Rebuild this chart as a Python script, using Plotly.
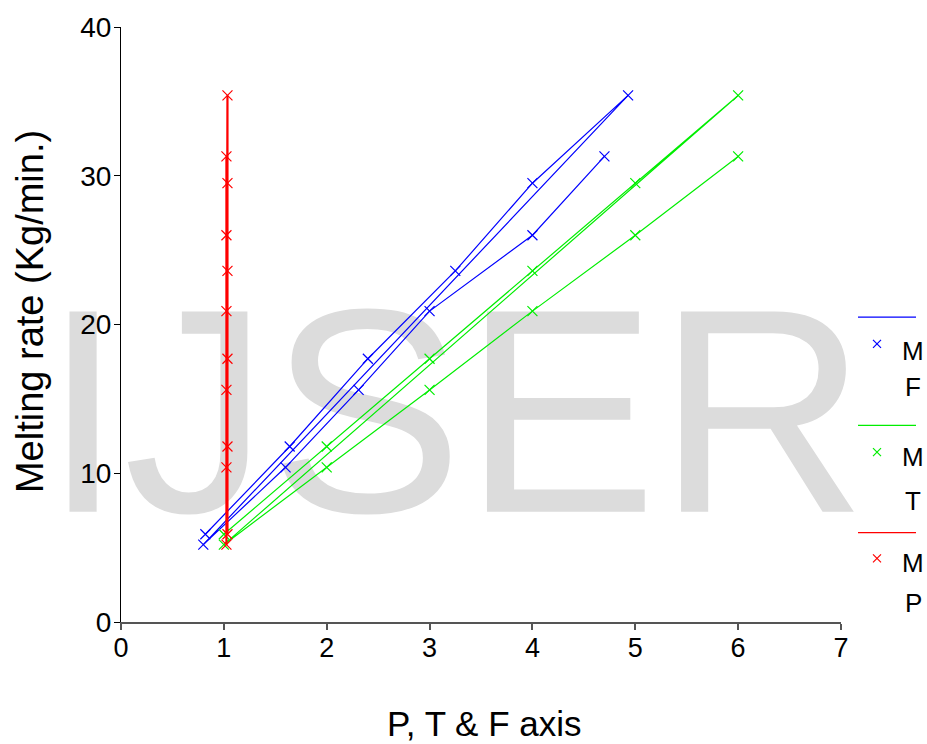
import plotly.graph_objects as go

# ---- data (set B first, then set A, in drawing order) ----
F_axis = [0.82, 1.64, 2.40, 3.25, 4.00, 4.93, 0.80, 1.60, 2.31, 3.00, 4.00, 4.70]
T_axis = [1.0, 2.0, 3.0, 4.0, 5.0, 6.0, 1.0, 2.0, 3.0, 4.0, 5.0, 6.0]
P_axis = [1.035, 1.035, 1.035, 1.035, 1.035, 1.035, 1.025, 1.025, 1.025, 1.025, 1.025, 1.025]
M_rate = [5.9, 11.8, 17.7, 23.6, 29.5, 35.4, 5.2, 10.4, 15.6, 20.9, 26.0, 31.3]

series_names = ["M F", "M T", "M P"]
series_colors = ["#0000ff", "#00ee00", "#ff0000"]
series_widths = [1.2, 1.2, 2.2]
x_ticks = [0, 1, 2, 3, 4, 5, 6, 7]
y_ticks = [0, 10, 20, 30, 40]

FONT = "Liberation Sans, Arial, sans-serif"

fig = go.Figure()

# watermark, drawn beneath the data
fig.add_trace(go.Scatter(
    x=[3.247], y=[12.3], mode="text", text=["IJSER"],
    textposition="middle center",
    textfont=dict(family=FONT, size=291, color="#dcdcdc"),
    cliponaxis=False, hoverinfo="skip", showlegend=False))

for xs, name, col, w in zip([F_axis, T_axis, P_axis], series_names, series_colors, series_widths):
    fig.add_trace(go.Scatter(
        x=xs, y=M_rate, mode="lines+markers", name=name,
        line=dict(color=col, width=w),
        marker=dict(symbol="x-thin", size=10, line=dict(color=col, width=1.2)),
        cliponaxis=False, showlegend=False))

# ---- manual legend ----
L0, W, T0, H = 121, 720, 23, 599
def px(x):
    return (x - L0) / W
def py(y):
    return (T0 + H - y) / H

shapes = []
annotations = []
leg_rows = [(315, 342, 349, 385, "F"), (424, 451, 456, 500, "T"), (532, 558, 563, 603, "P")]
for (ly, my, ty1, ty2, letter), col in zip(leg_rows, series_colors):
    shapes.append(dict(type="line", xref="paper", yref="paper",
                       x0=px(858), x1=px(916), y0=py(ly), y1=py(ly),
                       line=dict(color=col, width=1.2)))
    shapes.append(dict(type="path", xref="paper", yref="paper",
                       xsizemode="pixel", ysizemode="pixel",
                       xanchor=px(877), yanchor=py(my),
                       path="M -4,-4 L 4,4 M -4,4 L 4,-4",
                       line=dict(color=col, width=1.2)))
    annotations.append(dict(text="M", xref="paper", yref="paper", x=px(913), y=py(ty1),
                            xanchor="center", yanchor="middle", showarrow=False,
                            font=dict(family=FONT, size=26, color="black")))
    annotations.append(dict(text=letter, xref="paper", yref="paper", x=px(913), y=py(ty2),
                            xanchor="center", yanchor="middle", showarrow=False,
                            font=dict(family=FONT, size=26, color="black")))

# axis titles
annotations.append(dict(text="P, T &amp; F axis", xref="paper", yref="paper",
                        x=px(484), y=py(724), xanchor="center", yanchor="middle",
                        showarrow=False, font=dict(family=FONT, size=35, color="black")))
annotations.append(dict(text="Melting rate (Kg/min.)", xref="paper", yref="paper",
                        x=px(30), y=py(310), xanchor="center", yanchor="middle",
                        textangle=-90, showarrow=False,
                        font=dict(family=FONT, size=38, color="black")))

fig.update_layout(
    width=927, height=744,
    margin=dict(l=121, r=86, t=23, b=122),
    paper_bgcolor="white", plot_bgcolor="white",
    showlegend=False,
    shapes=shapes, annotations=annotations,
    font=dict(family=FONT, color="black"),
    xaxis=dict(range=[0, 7], tickvals=x_ticks, ticks="outside", ticklen=6,
               tickcolor="#555555", tickwidth=1.5, showline=True, linecolor="#555555",
               linewidth=2, showgrid=False, zeroline=False, ticklabelstandoff=-5,
               tickfont=dict(family=FONT, size=27, color="black")),
    yaxis=dict(range=[0, 40], tickvals=y_ticks, ticks="outside", ticklen=6,
               tickcolor="black", tickwidth=1, showline=True, linecolor="black",
               linewidth=1, showgrid=False, zeroline=False, ticklabelstandoff=-3,
               tickfont=dict(family=FONT, size=28, color="black")),
)

fig.write_html("out.html", config={"displayModeBar": False},
               post_script="document.body.style.margin='0px';")
